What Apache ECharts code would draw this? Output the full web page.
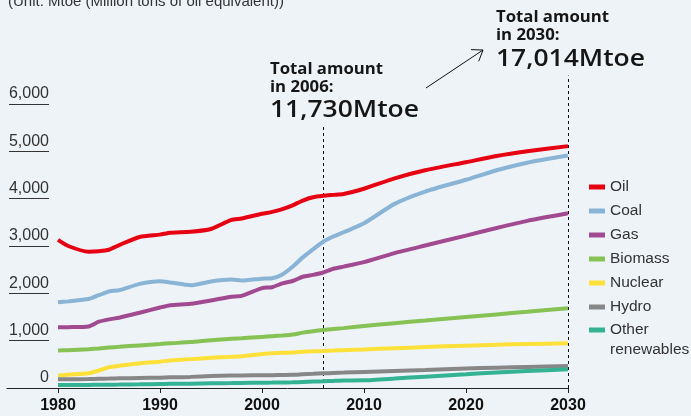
<!DOCTYPE html>
<html>
<head>
<meta charset="utf-8">
<script src="https://cdn.jsdelivr.net/npm/echarts@6/dist/echarts.min.js"></script>
<style>
html,body{margin:0;padding:0;background:#EEF3F8;}
#chart{width:691px;height:416px;}
</style>
</head>
<body>
<div id="chart"></div>
<script>
// ---- data (Mtoe) ----
const years = [1980,1981,1983,1984,1985,1986,1988,1990,1991,1993,1995,1997,1998,2000,2001,2002,2003,2004,2005,2006,2007,2008,2010,2013,2016,2020,2023,2026,2030];
const oil     = [3130,3000,2880,2890,2920,3020,3190,3240,3280,3300,3360,3550,3580,3680,3720,3780,3860,3960,4030,4060,4080,4100,4210,4430,4600,4770,4900,5000,5110];
const coal    = [1810,1830,1880,1960,2040,2065,2200,2255,2230,2170,2250,2290,2270,2310,2320,2400,2560,2760,2930,3090,3200,3290,3480,3890,4150,4400,4600,4760,4910];
const gas     = [1283,1285,1300,1400,1450,1485,1590,1700,1750,1780,1850,1930,1945,2110,2130,2210,2260,2350,2390,2440,2520,2565,2660,2850,3010,3220,3380,3530,3690];
const biomass = [790,800,820,835,855,870,900,930,945,970,1010,1040,1050,1080,1095,1110,1130,1170,1200,1225,1245,1265,1310,1370,1425,1500,1555,1610,1685];
const nuclear = [261,285,310,370,437,470,522,557,580,610,640,660,670,720,735,745,750,765,775,782,790,800,815,840,865,895,915,930,945];
const hydro   = [183,185,190,195,200,205,212,219,225,235,255,262,265,270,272,275,278,290,300,310,318,325,340,360,380,410,430,445,465];
const other   = [63,64,66,68,70,72,78,85,88,92,99,103,106,112,115,118,120,128,135,141,150,158,162,200,240,290,328,360,395];

const seriesNames = ['Oil','Coal','Gas','Biomass','Nuclear','Hydro','Other renewables'];
const seriesColors = ['#E60012','#8AB4D6','#A24A91','#86C254','#FDE03A','#878787','#34B392'];
const seriesValues = [oil, coal, gas, biomass, nuclear, hydro, other];

const xTickYears = [1980,1990,2000,2010,2020,2030];
const yTickStep = 1000;
const yMax = 6000;

const unitText = '(Unit: Mtoe (Million tons of oil equivalent))';
const note2006 = ['Total amount', 'in 2006:', '11,730Mtoe'];
const note2030 = ['Total amount', 'in 2030:', '17,014Mtoe'];
const markYears = [2006, 2030];
const markTops = [5540, 6600];

// ---- helpers ----
const mctx = document.createElement('canvas').getContext('2d');
function measure(text, font){ mctx.font = font; return mctx.measureText(text).width; }
const smallFont = '700 16px "Open Sans"';
const bigFont = '600 24px "Open Sans"';
const sScale = 113 / measure('Total amount', smallFont);
const bScale = 149 / measure('11,730Mtoe', bigFont);

function noteGraphics(lines, x, ys){
  return lines.map((t, i) => ({
    type: 'text', x: x, y: ys[i], scaleX: i < 2 ? sScale : bScale, silent: true,
    style: { text: t, font: i < 2 ? smallFont : bigFont, fill: '#161616', align: 'left', verticalAlign: 'middle' }
  }));
}

// arrow
const a0 = [426, 88], a1 = [483, 50];
const ang = Math.atan2(a0[1]-a1[1], a0[0]-a1[0]);
const hl = 12, hs = 0.62;
const head = [
  [a1[0] + hl*Math.cos(ang+hs), a1[1] + hl*Math.sin(ang+hs)],
  a1,
  [a1[0] + hl*Math.cos(ang-hs), a1[1] + hl*Math.sin(ang-hs)]
];

const fmt = v => v.toLocaleString('en-US');

const series = seriesNames.map((n, k) => ({
  name: n, type: 'line', xAxisIndex: 0, yAxisIndex: 0,
  data: years.map((y, i) => [y, seriesValues[k][i]]),
  showSymbol: false, symbol: 'none', smooth: 0.2,
  clip: false,
  color: seriesColors[k],
  lineStyle: { width: 4, color: seriesColors[k] },
  emphasis: { disabled: true }
}));

const legendText = { fontSize: 15.5, color: '#333', fontFamily: 'Liberation Sans, Arial, sans-serif', lineHeight: 16 };

const baseGraphics = [
  { type: 'text', x: 8, y: 2, silent: true,
    style: { text: unitText, font: '15px "Liberation Sans", Arial, sans-serif', fill: '#333', verticalAlign: 'middle' } },
  ...noteGraphics(note2006, 270, [69, 87, 110]),
  ...noteGraphics(note2030, 496, [17, 35, 59]),
  { type: 'polyline', silent: true, shape: { points: [a0, a1] }, style: { stroke: '#111', lineWidth: 1, fill: null } },
  { type: 'polyline', silent: true, shape: { points: head }, style: { stroke: '#111', lineWidth: 1, fill: null } }
];

const option = {
  backgroundColor: '#EEF3F8',
  animation: false,
  grid: [
    { left: 7, right: 123, top: 104, bottom: 28 },
    { left: 9, width: 40, top: 104, bottom: 28 }
  ],
  xAxis: [
    { type: 'value', gridIndex: 0, min: 1975, max: 2030, interval: 5,
      axisLine: { show: true, lineStyle: { color: '#222', width: 1 } },
      axisTick: { show: true, length: 5, lineStyle: { color: '#222' }, customValues: xTickYears },
      axisLabel: { show: true, customValues: xTickYears, margin: 10, fontSize: 16, fontWeight: 'bold', color: '#111',
        fontFamily: 'Liberation Sans, Arial, sans-serif', formatter: v => String(v) },
      splitLine: { show: false } },
    { type: 'value', gridIndex: 1, show: false, min: 0, max: 1 }
  ],
  yAxis: [
    { type: 'value', gridIndex: 0, min: 0, max: yMax, interval: yTickStep, show: false, splitLine: { show: false } },
    { type: 'value', gridIndex: 1, position: 'right', min: 0, max: yMax, interval: yTickStep,
      axisLine: { show: false }, axisTick: { show: false },
      axisLabel: { inside: true, margin: 0, align: 'right', verticalAlign: 'bottom', lineHeight: 20,
        fontSize: 16, color: '#333', fontFamily: 'Liberation Sans, Arial, sans-serif', formatter: fmt },
      splitLine: { show: true, lineStyle: { color: '#333', width: 1 } } }
  ],
  legend: [
    { orient: 'vertical', left: 589, top: 179, padding: 0, itemGap: 8, itemWidth: 16, itemHeight: 5,
      icon: 'rect', selectedMode: false, data: seriesNames.slice(0, 6), textStyle: legendText },
    { orient: 'vertical', left: 589, top: 300, padding: 0, itemWidth: 16, itemHeight: 5,
      icon: 'rect', selectedMode: false, data: [seriesNames[6]],
      formatter: n => '\n' + n.replace(' ', '\n'),
      textStyle: Object.assign({}, legendText, { lineHeight: 20 }) }
  ],
  graphic: baseGraphics,
  series: series
};

const chart = echarts.init(document.getElementById('chart'), null, { renderer: 'canvas' });
chart.setOption(option);

// dashed reference lines, placed through the chart's own scales
const dashLines = markYears.map((y, i) => {
  const p0 = chart.convertToPixel({ gridIndex: 0 }, [y, 0]);
  const p1 = chart.convertToPixel({ gridIndex: 0 }, [y, markTops[i]]);
  const x = Math.round(p0[0]) + 0.5;
  return { type: 'line', silent: true, shape: { x1: x, y1: p0[1], x2: x, y2: p1[1] },
    style: { stroke: '#111', lineWidth: 1, lineDash: [3, 3] } };
});
chart.setOption({ graphic: baseGraphics.concat(dashLines) });
</script>
</body>
</html>
